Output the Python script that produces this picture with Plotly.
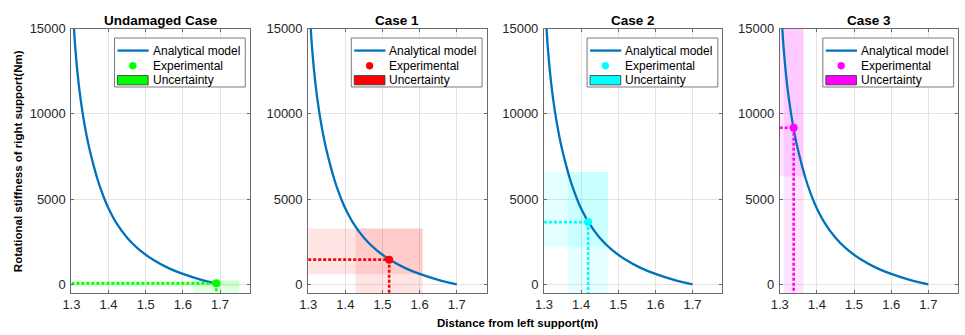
import plotly.graph_objects as go

# ---------------- data ----------------
case_titles = ["Undamaged Case", "Case 1", "Case 2", "Case 3"]
case_colors = ["#00ff00", "#ff0000", "#00ffff", "#ff00ff"]
band_colors = ["rgba(0,255,0,0.10)", "rgba(255,0,0,0.105)",
               "rgba(0,255,255,0.11)", "rgba(255,0,255,0.11)"]

# analytical model
curve_x = [1.303, 1.310, 1.320, 1.330, 1.340, 1.350, 1.360, 1.370, 1.380, 1.390,
           1.400, 1.420, 1.450, 1.480, 1.520, 1.560, 1.600, 1.650, 1.700]
curve_y = [16500, 13970, 11670, 10070, 8820, 7800, 6950, 6180, 5520, 4950,
           4450, 3640, 2736, 2079, 1439, 969, 611, 266, 0]

# experimental points
exp_x = [1.690, 1.518, 1.419, 1.3375]
exp_y = [60, 1450, 3650, 9180]

# uncertainty bounds
unc_x_lo = [1.628, 1.427, 1.364, 1.311]
unc_x_hi = [1.752, 1.608, 1.472, 1.364]
unc_y_lo = [-170, 590, 2180, 6330]
unc_y_hi = [220, 3280, 6590, 16000]

x_range = [1.3, 1.78]
y_range = [-500, 15000]
x_ticks = [1.3, 1.4, 1.5, 1.6, 1.7]
x_ticklabels = ["1.3", "1.4", "1.5", "1.6", "1.7"]
y_ticks = [0, 5000, 10000, 15000]
y_ticklabels = ["0", "5000", "10000", "15000"]

legend_labels = ["Analytical model", "Experimental", "Uncertainty"]
y_title = "Rotational stiffness of right support(Nm)"
x_title = "Distance from left support(m)"

# ---------------- layout geometry (pixels) ----------------
W, H = 965, 335
panel_left = [63, 302, 540, 778]
panel_w = 180
panel_top, panel_bottom = 22, 292
panel_h = panel_bottom - panel_top

CURVE_COLOR = "#0072BD"
AX_COLOR = "#6a6a6a"
FONT = "Arial, Liberation Sans, Helvetica, sans-serif"

fig = go.Figure()
shapes = []
annotations = []

for i in range(4):
    s = "" if i == 0 else str(i + 1)
    xa, ya = "x" + s, "y" + s
    col = case_colors[i]

    # horizontal uncertainty band (from left axis edge)
    fig.add_trace(go.Scatter(
        x=[x_range[0], unc_x_hi[i], unc_x_hi[i], x_range[0], x_range[0]],
        y=[unc_y_lo[i], unc_y_lo[i], unc_y_hi[i], unc_y_hi[i], unc_y_lo[i]],
        fill="toself", fillcolor=band_colors[i], mode="lines",
        line=dict(width=0), showlegend=False, hoverinfo="skip",
        xaxis=xa, yaxis=ya))
    # vertical uncertainty band (from bottom axis edge)
    fig.add_trace(go.Scatter(
        x=[unc_x_lo[i], unc_x_hi[i], unc_x_hi[i], unc_x_lo[i], unc_x_lo[i]],
        y=[y_range[0], y_range[0], unc_y_hi[i], unc_y_hi[i], y_range[0]],
        fill="toself", fillcolor=band_colors[i], mode="lines",
        line=dict(width=0), showlegend=False, hoverinfo="skip",
        xaxis=xa, yaxis=ya))
    # analytical curve
    fig.add_trace(go.Scatter(
        x=curve_x, y=curve_y, mode="lines",
        line=dict(color=CURVE_COLOR, width=2.3, shape="spline", smoothing=0.6),
        name=legend_labels[0], showlegend=False, xaxis=xa, yaxis=ya))
    # dotted guide lines
    fig.add_trace(go.Scatter(
        x=[x_range[0], exp_x[i]], y=[exp_y[i], exp_y[i]], mode="lines",
        line=dict(color=col, width=2.6, dash="3px,2px"),
        showlegend=False, hoverinfo="skip", xaxis=xa, yaxis=ya))
    fig.add_trace(go.Scatter(
        x=[exp_x[i], exp_x[i]], y=[exp_y[i], y_range[0]], mode="lines",
        line=dict(color=col, width=2.6, dash="3px,2px"),
        showlegend=False, hoverinfo="skip", xaxis=xa, yaxis=ya))
    # experimental point
    fig.add_trace(go.Scatter(
        x=[exp_x[i]], y=[exp_y[i]], mode="markers",
        marker=dict(color=col, size=8, line=dict(width=0)),
        name=legend_labels[1], showlegend=False, xaxis=xa, yaxis=ya))

    x0 = panel_left[i] / W
    x1 = (panel_left[i] + panel_w) / W
    axis_common = dict(
        showline=True, linecolor=AX_COLOR, linewidth=1, mirror="ticks",
        ticks="inside", ticklen=3, tickcolor=AX_COLOR, tickwidth=1,
        showgrid=True, gridcolor="#e4e4e4", gridwidth=1, zeroline=False,
        tickfont=dict(family=FONT, size=13, color="#262626"),
        fixedrange=True)
    fig.layout["xaxis" + s] = dict(
        domain=[x0, x1], range=x_range, anchor=ya,
        tickmode="array", tickvals=x_ticks, ticktext=x_ticklabels,
        **axis_common)
    fig.layout["yaxis" + s] = dict(
        domain=[(H - panel_bottom) / H, (H - panel_top) / H], range=y_range,
        anchor=xa, tickmode="array", tickvals=y_ticks, ticktext=y_ticklabels,
        ticklabelstandoff=2, **axis_common)

    # panel title
    annotations.append(dict(
        text="<b>" + case_titles[i] + "</b>", xref="paper", yref="paper",
        x=(panel_left[i] + panel_w / 2) / W, y=(H - 13.5) / H,
        xanchor="center", yanchor="middle", showarrow=False,
        font=dict(family=FONT, size=13.5, color="#000000")))

    # ---- legend box (drawn in axis-domain coordinates) ----
    xd, yd = xa + " domain", ya + " domain"

    def fx(dx):
        return 1 + dx / panel_w

    def fy(dy):
        return 1 - dy / panel_h

    shapes.append(dict(type="rect", xref=xd, yref=yd,
                       x0=fx(-136.5), x1=fx(-4.5), y0=fy(59.7), y1=fy(9.7),
                       line=dict(color="#7a7a7a", width=1), fillcolor="white",
                       layer="above"))
    shapes.append(dict(type="line", xref=xd, yref=yd,
                       x0=fx(-133.5), x1=fx(-102), y0=fy(22.5), y1=fy(22.5),
                       line=dict(color=CURVE_COLOR, width=2.3), layer="above"))
    shapes.append(dict(type="circle", xref=xd, yref=yd,
                       x0=fx(-121.5), x1=fx(-114.5), y0=fy(41.5), y1=fy(34.5),
                       line=dict(color=col, width=0.5), fillcolor=col,
                       layer="above"))
    shapes.append(dict(type="rect", xref=xd, yref=yd,
                       x0=fx(-133.5), x1=fx(-102.5), y0=fy(57.5), y1=fy(48),
                       line=dict(color="#333333", width=0.8), fillcolor=col,
                       layer="above"))
    for lbl, dy in zip(legend_labels, [22.5, 38, 53]):
        annotations.append(dict(
            text=lbl, xref=xd, yref=yd, x=fx(-100), y=fy(dy),
            xanchor="left", yanchor="middle", showarrow=False,
            font=dict(family=FONT, size=12, color="#000000")))

# axis titles
annotations.append(dict(
    text="<b>" + y_title + "</b>", xref="paper", yref="paper",
    x=8.5 / W, y=(H - 157) / H, textangle=-90,
    xanchor="center", yanchor="middle", showarrow=False,
    font=dict(family=FONT, size=11.5, color="#000000")))
annotations.append(dict(
    text="<b>" + x_title + "</b>", xref="paper", yref="paper",
    x=513 / W, y=(H - 322.5) / H,
    xanchor="center", yanchor="middle", showarrow=False,
    font=dict(family=FONT, size=11.5, color="#000000")))

fig.update_layout(
    width=W, height=H,
    margin=dict(l=0, r=0, t=0, b=0),
    paper_bgcolor="white", plot_bgcolor="white",
    showlegend=False,
    shapes=shapes, annotations=annotations,
)

fig.write_html(
    "out.html",
    config={"displayModeBar": False},
    post_script="document.body.style.margin='0';document.body.style.padding='0';",
)
